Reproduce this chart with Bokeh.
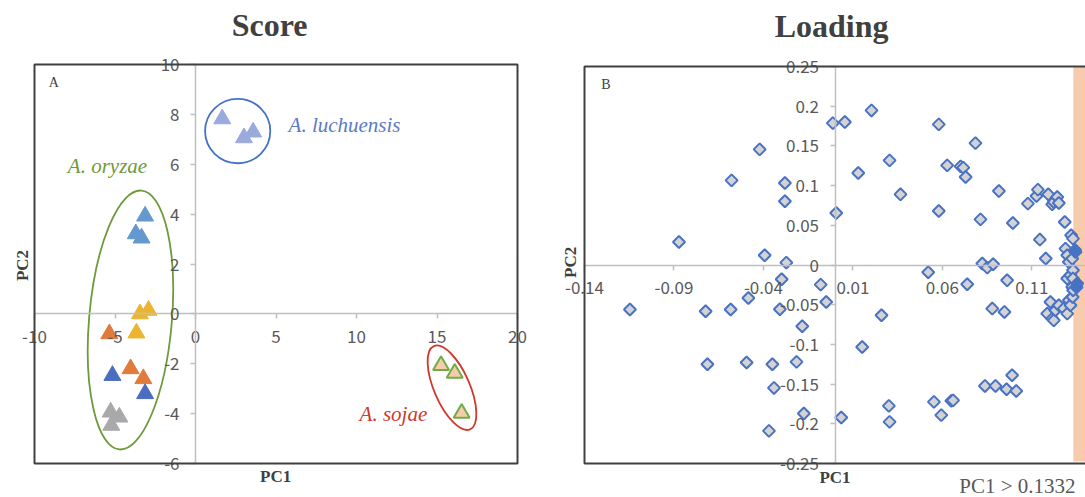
import math

from bokeh.embed import file_html
from bokeh.layouts import row
from bokeh.models import BoxAnnotation, FixedTicker, Label, LinearAxis
from bokeh.plotting import figure
from bokeh.resources import INLINE

# ---------------- Score plot data (PC1, PC2) ----------------
luchuensis_pc1 = [1.66, 3.01, 3.58]
luchuensis_pc2 = [7.82, 7.06, 7.29]

oryzae_a_pc1 = [-3.13, -3.71, -3.35]
oryzae_a_pc2 = [3.92, 3.21, 3.04]
oryzae_b_pc1 = [-3.45, -2.92, -3.67]
oryzae_b_pc2 = [0.00, 0.14, -0.77]
oryzae_c_pc1 = [-5.35, -4.03, -3.24]
oryzae_c_pc2 = [-0.80, -2.20, -2.60]
oryzae_d_pc1 = [-5.16, -3.13]
oryzae_d_pc2 = [-2.47, -3.20]
oryzae_e_pc1 = [-5.27, -4.73, -5.23]
oryzae_e_pc2 = [-3.94, -4.14, -4.47]

sojae_pc1 = [15.25, 16.10, 16.53]
sojae_pc2 = [-2.07, -2.38, -3.98]

score_xticks = [-10, -5, 0, 5, 10, 15, 20]
score_xlabels = ["-10", "-5", "0", "5", "10", "15", "20"]
score_yticks = [-6, -4, -2, 0, 2, 4, 6, 8, 10]
score_ylabels = ["-6", "-4", "-2", "0", "2", "4", "6", "8", "10"]

# ---------------- Loading plot data (PC1, PC2) ----------------
loading_pc1 = [
    -0.1146, -0.0872, -0.0723, -0.0713, -0.0578, -0.0583, -0.0494, -0.0484,
    -0.0421, -0.0393, -0.0369, -0.0350, -0.0341, -0.0308, -0.0298, -0.0280,
    -0.0280, -0.0272, -0.0215, -0.0183, -0.0174, -0.0080, -0.0049, -0.0012,
    0.0007, 0.0035, 0.0055, 0.0130, 0.0152, 0.0204, 0.0260, 0.0301,
    0.0305, 0.0305, 0.0366, 0.0521, 0.0553, 0.0580, 0.0580, 0.0594,
    0.0627, 0.0650, 0.0660, 0.0702, 0.0717, 0.0730, 0.0739, 0.0785,
    0.0813, 0.0823, 0.0838, 0.0851, 0.0879, 0.0884, 0.0897, 0.0916,
    0.0947, 0.0959, 0.0962, 0.0990, 0.0994, 0.1013, 0.1078, 0.1126,
    0.1134, 0.1145, 0.1178, 0.1186, 0.1192, 0.1204, 0.1214, 0.1214,
    0.1223, 0.1223, 0.1232, 0.1242, 0.1251, 0.1251, 0.1279, 0.1284,
    0.1288, 0.1298, 0.1298, 0.1298, 0.1307, 0.1307, 0.1316, 0.1316,
    0.1320, 0.1326, 0.1326, 0.1330, 0.1330, 0.1328, 0.1330, 0.1331,
    0.1344, 0.1354, 0.1350, 0.1342,
]
loading_pc2 = [
    -0.0561, 0.0290, -0.0583, -0.1250, 0.1066, -0.0561, -0.1228, -0.0415,
    0.1456, 0.0122, -0.2089, -0.1250, -0.1548, -0.0558, -0.0180, 0.1032,
    0.0802, 0.0030, -0.1220, -0.0771, -0.1870, -0.0247, -0.0466, 0.1787,
    0.0654, -0.1921, 0.1800, 0.1158, -0.1032, 0.1947, -0.0633, -0.1774,
    -0.1976, 0.1318, 0.0890, -0.0092, -0.1724, 0.1771, 0.0680, -0.1891,
    0.1255, -0.1711, -0.1705, 0.1242, 0.1226, 0.1108, -0.0243, 0.1535,
    0.0575, 0.0018, -0.1523, -0.0033, -0.0549, 0.0009, -0.1523, 0.0931,
    -0.0591, -0.1564, -0.0193, -0.1388, 0.0529, -0.1586, 0.0773, 0.0869,
    0.0949, 0.0320, 0.0081, -0.0612, 0.0890, -0.0466, 0.0764, -0.0675,
    0.0793, -0.0697, -0.0570, 0.0856, 0.0780, -0.0507, -0.0549, 0.0541,
    0.0206, 0.0122, -0.0171, -0.0612, 0.0038, -0.0444, -0.0130, -0.0507,
    0.0374, 0.0080, -0.0277, 0.0332, -0.0067, -0.0402, -0.0171, -0.0318,
    0.0164, -0.0234, -0.0280, 0.0190,
]
pc1_threshold = 0.1332

loading_xticks = [-0.14, -0.09, -0.04, 0.01, 0.06, 0.11]
loading_xlabels = ["-0.14", "-0.09", "-0.04", "0.01", "0.06", "0.11"]
loading_yticks = [-0.25, -0.2, -0.15, -0.1, -0.05, 0, 0.05, 0.1, 0.15, 0.2, 0.25]
loading_ylabels = ["-0.25", "-0.2", "-0.15", "-0.1", "-0.05", "0",
                   "0.05", "0.1", "0.15", "0.2", "0.25"]

# ---------------- shared styling ----------------
TICK_FONT = "Noto Sans CJK JP"
SERIF = "Liberation Serif"
DARK = "#404040"
AXIS_GREY = "#bfbfbf"
TICK_TEXT = "#595959"
H = 497


def panel(width, box_px, xlim, ylim):
    """A figure whose drawing area fills the whole canvas; the plot box
    (left, right, top, bottom in pixels) maps to the given data limits."""
    left, right, top, bottom = box_px
    sx = (right - left) / (xlim[1] - xlim[0])
    sy = (bottom - top) / (ylim[1] - ylim[0])
    xr = (xlim[0] - left / sx, xlim[1] + (width - right) / sx)
    yr = (ylim[0] - (H - bottom) / sy, ylim[1] + top / sy)
    p = figure(width=width, height=H, x_range=xr, y_range=yr,
               output_backend="svg", toolbar_location=None,
               x_axis_location=None, y_axis_location=None,
               min_border=0)
    p.grid.visible = False
    p.outline_line_color = None
    p.tags = [sy]  # pixels per data unit along y
    return p


def frame_box(p, left, right, bottom, top):
    p.add_layout(BoxAnnotation(left=left, right=right, bottom=bottom,
                               top=top, fill_alpha=0, line_color=DARK,
                               line_alpha=1.0, line_width=2))


def crossing_axes(p, xt, xl, yt, yl, xbounds, ybounds):
    """Axes that cross at the origin, in the spreadsheet style."""
    common = dict(
        fixed_location=0,
        axis_line_color=AXIS_GREY, axis_line_width=1.5,
        major_tick_line_color=AXIS_GREY, major_tick_line_width=1.5,
        major_tick_in=0, major_tick_out=5,
        minor_tick_line_color=None,
        major_label_text_font=TICK_FONT,
        major_label_text_font_size="17px",
        major_label_text_color=TICK_TEXT,
    )
    xa = LinearAxis(ticker=FixedTicker(ticks=xt), bounds=xbounds,
                    major_label_overrides=dict(zip(xt, xl)),
                    major_label_standoff=11, **common)
    ya = LinearAxis(ticker=FixedTicker(ticks=yt), bounds=ybounds,
                    major_label_overrides=dict(zip(yt, yl)),
                    major_label_standoff=11, **common)
    p.add_layout(xa, "below")
    p.add_layout(ya, "left")


def text(p, x, y, s, size_px, font=SERIF, style="normal", color=DARK,
         align="left", baseline="alphabetic", angle=0.0):
    # baseline placement: raise the label by ~0.35 em
    lift = 0.35 * size_px / p.tags[0] if baseline == "alphabetic" else 0.0
    p.add_layout(Label(x=x, y=y + lift, text=s, text_font=font,
                       text_font_size=f"{size_px}px", text_font_style=style,
                       text_color=color, text_align=align,
                       text_baseline=baseline, angle=angle))


# ================= Score =================
p1 = panel(540, (34, 517, 64, 463), (-10, 20), (-6, 10))
crossing_axes(p1, score_xticks, score_xlabels, score_yticks, score_ylabels,
              (-10, 20), (-6, 10))
frame_box(p1, -10, 20, -6, 10)

tri = dict(marker="triangle", size=17, line_width=1)
p1.scatter(luchuensis_pc1, luchuensis_pc2, fill_color="#9aaadb",
           line_color="#9aaadb", **tri)
p1.scatter(oryzae_a_pc1, oryzae_a_pc2, fill_color="#6499cf",
           line_color="#6499cf", **tri)
p1.scatter(oryzae_b_pc1, oryzae_b_pc2, fill_color="#ebb530",
           line_color="#ebb530", **tri)
p1.scatter(oryzae_c_pc1, oryzae_c_pc2, fill_color="#e07b3c",
           line_color="#e07b3c", **tri)
p1.scatter(oryzae_d_pc1, oryzae_d_pc2, fill_color="#4a6dc0",
           line_color="#4a6dc0", **tri)
p1.scatter(oryzae_e_pc1, oryzae_e_pc2, fill_color="#a9a9ab",
           line_color="#a9a9ab", **tri)
p1.scatter(sojae_pc1, sojae_pc2, marker="triangle", size=16,
           fill_color="#f8cbad", line_color="#70ad47", line_width=2)

# group outlines
p1.ellipse(x=[2.62], y=[7.33], width=[4.05], height=[2.58], angle=[0.0],
           fill_color=None, line_color="#4472c4", line_width=1.8)
p1.ellipse(x=[-4.04], y=[-0.245], width=[5.14], height=[10.42],
           angle=[-math.radians(4.9)],
           fill_color=None, line_color="#6f9a3c", line_width=1.8)
p1.ellipse(x=[15.93], y=[-2.96], width=[2.21], height=[3.64],
           angle=[math.radians(23.5)],
           fill_color=None, line_color="#d0392b", line_width=1.8)

text(p1, 5.78, 7.29, "A. luchuensis", 21, style="italic", color="#5a7bc6")
text(p1, -7.93, 5.63, "A. oryzae", 21, style="italic", color="#6f9a3a")
text(p1, 10.19, -4.30, "A. sojae", 21, style="italic", color="#d0392b")
text(p1, -9.11, 9.09, "A", 14)
text(p1, 4.6, 11.12, "Score", 32, style="bold", align="center")
text(p1, 4.98, -6.75, "PC1", 17, style="bold", align="center")
text(p1, -10.76, 1.94, "PC2", 17, style="bold", align="center",
     baseline="middle", angle=math.pi / 2)

# ================= Loading =================
p2 = panel(545, (44, 545, 66, 463), (-0.14, 0.14), (-0.25, 0.25))
# highlighted PC1 region
p2.add_layout(BoxAnnotation(left=pc1_threshold, right=0.2, bottom=-0.2475,
                            top=0.25, fill_color="#f8cbad", fill_alpha=1.0,
                            line_color=None, level="underlay"))
crossing_axes(p2, loading_xticks, loading_xlabels, loading_yticks,
              loading_ylabels, (-0.14, 0.14), (-0.25, 0.25))
# plot box, open on the right where the canvas ends
frame_box(p2, -0.14, 0.2, -0.25, 0.25)

fills = ["#4472c4" if v > pc1_threshold else "#d3d3d3" for v in loading_pc1]
p2.scatter(loading_pc1, loading_pc2, marker="square", angle=math.pi / 4,
           size=8.5, fill_color=fills, line_color="#4a72c4", line_width=2)

text(p2, -0.1306, 0.2207, "B", 14)
text(p2, -0.0019, 0.2869, "Loading", 32, style="bold", align="center")
text(p2, 0.0, -0.2747, "PC1", 17, style="bold", align="center")
text(p2, -0.1477, 0.0034, "PC2", 17, style="bold", align="center",
     baseline="middle", angle=math.pi / 2)
text(p2, 0.1344, -0.2873, "PC1 > 0.1332", 21, color=TICK_TEXT,
     align="right")

layout = row(p1, p2)
with open("out.html", "w") as f:
    f.write(file_html(layout, INLINE))
